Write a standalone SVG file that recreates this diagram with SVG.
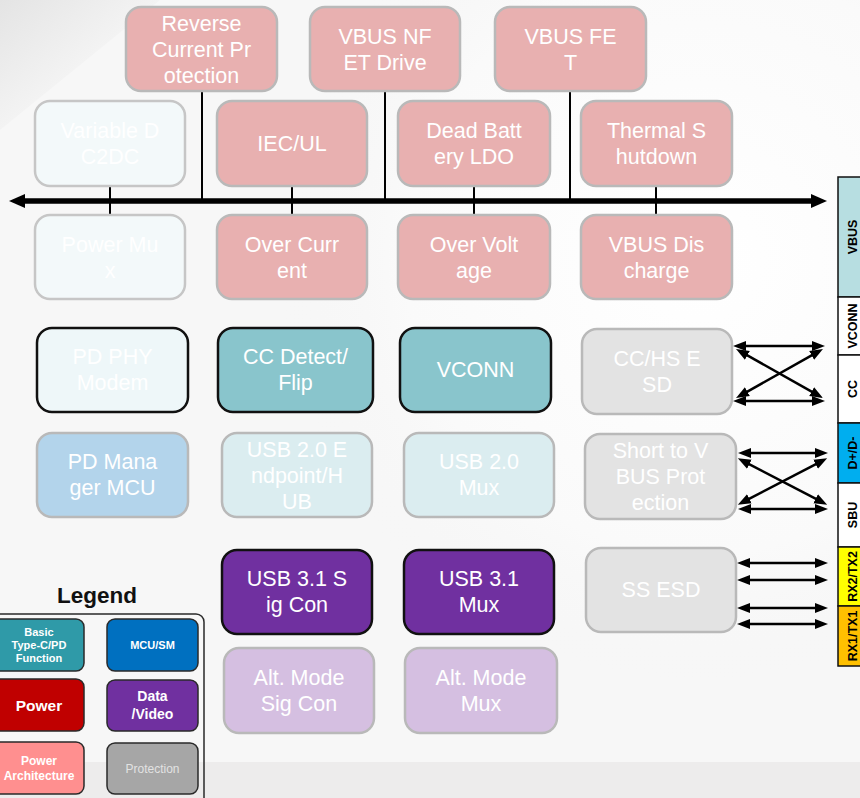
<svg xmlns="http://www.w3.org/2000/svg" width="860" height="798" viewBox="0 0 860 798">
<defs>
<linearGradient id="bgTL" x1="0" y1="0" x2="1" y2="1">
<stop offset="0" stop-color="#e4e4e4"/>
<stop offset="0.5" stop-color="#f3f3f3"/>
<stop offset="1" stop-color="#f8f8f8"/>
</linearGradient>
<radialGradient id="bgR" cx="700" cy="260" r="420" gradientUnits="userSpaceOnUse">
<stop offset="0" stop-color="#ffffff"/>
<stop offset="0.7" stop-color="#fafafa"/>
<stop offset="1" stop-color="#f6f6f6" stop-opacity="0"/>
</radialGradient>
<marker id="bigArrow" markerUnits="userSpaceOnUse" markerWidth="18" markerHeight="16" refX="2" refY="7" orient="auto-start-reverse" viewBox="0 0 18 14">
<path d="M0,0 L16,7 L0,14 z" fill="#000"/>
</marker>
<marker id="arr" markerUnits="userSpaceOnUse" markerWidth="14" markerHeight="12" refX="2" refY="5" orient="auto-start-reverse" viewBox="0 0 14 10">
<path d="M0,0 L13,5 L0,10 z" fill="#000"/>
</marker>
</defs>
<style>
.n rect{stroke-width:2.5}
.pw rect{fill:#e8b0b0;stroke:#b9b9b9}
.fd rect{fill:#f3f9fa;stroke:#c6c6c6}
.tc rect{fill:#89c5cc;stroke:#111}
.phy rect{fill:#eef7f9;stroke:#111}
.mcu rect{fill:#b3d4eb;stroke:#b9b9b9}
.u2 rect{fill:#dbedf0;stroke:#b9b9b9}
.pr rect{fill:#e3e3e3;stroke:#b9b9b9}
.dv rect{fill:#7030a0;stroke:#111}
.alt rect{fill:#d5bfe1;stroke:#b9b9b9}
.n text{font-family:"Liberation Sans",Arial,sans-serif;font-size:21.5px;fill:#ffffff;text-anchor:middle}
.lg rect{stroke:#2a2a2a;stroke-width:1.5}
.lg text{font-family:"Liberation Sans",Arial,sans-serif;font-weight:bold;fill:#ffffff;text-anchor:middle}
.pin text{font-family:"Liberation Sans",Arial,sans-serif;font-weight:bold;font-size:12.5px;fill:#000;text-anchor:middle}
.pin rect{stroke:#111;stroke-width:1.5}
.vl{stroke:#000;stroke-width:2;fill:none}
.ar{stroke:#000;stroke-width:2.5;fill:none;marker-start:url(#arr);marker-end:url(#arr)}
</style>
<rect x="0" y="0" width="860" height="798" fill="#f7f7f7"/>
<polygon points="0,0 160,0 0,130" fill="url(#bgTL)"/>
<rect x="0" y="0" width="860" height="762" fill="url(#bgR)"/>
<rect x="0" y="762" width="860" height="36" fill="#edecec"/>

<g id="connectors">
<line class="vl" x1="110" y1="185" x2="110" y2="214"/>
<line class="vl" x1="202" y1="91" x2="202" y2="200"/>
<line class="vl" x1="292" y1="186" x2="292" y2="214"/>
<line class="vl" x1="385" y1="91" x2="385" y2="200"/>
<line class="vl" x1="474" y1="186" x2="474" y2="214"/>
<line class="vl" x1="570" y1="91" x2="570" y2="200"/>
<line class="vl" x1="656" y1="186" x2="656" y2="214"/>
<line x1="23" y1="201" x2="813" y2="201" stroke="#000" stroke-width="5.5" marker-start="url(#bigArrow)" marker-end="url(#bigArrow)"/>
<line class="ar" x1="744" y1="346" x2="814" y2="346"/>
<line class="ar" x1="744" y1="401" x2="814" y2="401"/>
<line class="ar" x1="745.6" y1="354.4" x2="813.4" y2="392.6"/>
<line class="ar" x1="745.6" y1="392.6" x2="813.4" y2="354.4"/>
<line class="ar" x1="749" y1="453" x2="817" y2="453"/>
<line class="ar" x1="749" y1="509" x2="817" y2="509"/>
<line class="ar" x1="747.6" y1="463.3" x2="817.4" y2="499.7"/>
<line class="ar" x1="747.6" y1="499.7" x2="817.4" y2="463.3"/>
<line class="ar" x1="748" y1="563" x2="817" y2="563"/>
<line class="ar" x1="748" y1="580" x2="817" y2="580"/>
<line class="ar" x1="748" y1="608" x2="817" y2="608"/>
<line class="ar" x1="748" y1="624" x2="817" y2="624"/>
</g>

<g id="n-reverse" class="n pw"><rect x="126" y="7" width="151" height="84" rx="15"/><text x="201.5" y="31">Reverse</text><text x="201.5" y="57">Current Pr</text><text x="201.5" y="83">otection</text></g>
<g id="n-nfet" class="n pw"><rect x="310" y="7" width="150" height="84" rx="15"/><text x="385" y="44">VBUS NF</text><text x="385" y="70">ET Drive</text></g>
<g id="n-fet" class="n pw"><rect x="495" y="7" width="151" height="84" rx="15"/><text x="570.5" y="44">VBUS FE</text><text x="570.5" y="70">T</text></g>

<g id="n-dc2dc" class="n fd"><rect x="35" y="101" width="150" height="85" rx="15"/><text x="110" y="138">Variable D</text><text x="110" y="164">C2DC</text></g>
<g id="n-iec" class="n pw"><rect x="217" y="101" width="150" height="85" rx="15"/><text x="292" y="151">IEC/UL</text></g>
<g id="n-ldo" class="n pw"><rect x="398" y="101" width="152" height="85" rx="15"/><text x="474" y="138">Dead Batt</text><text x="474" y="164">ery LDO</text></g>
<g id="n-thermal" class="n pw"><rect x="581" y="101" width="151" height="85" rx="15"/><text x="656.5" y="138">Thermal S</text><text x="656.5" y="164">hutdown</text></g>

<g id="n-pmux" class="n fd"><rect x="35" y="215" width="150" height="84" rx="15"/><text x="110" y="252">Power Mu</text><text x="110" y="278">x</text></g>
<g id="n-ocp" class="n pw"><rect x="217" y="215" width="150" height="84" rx="15"/><text x="292" y="252">Over Curr</text><text x="292" y="278">ent</text></g>
<g id="n-ovp" class="n pw"><rect x="398" y="215" width="152" height="84" rx="15"/><text x="474" y="252">Over Volt</text><text x="474" y="278">age</text></g>
<g id="n-dis" class="n pw"><rect x="581" y="215" width="151" height="84" rx="15"/><text x="656.5" y="252">VBUS Dis</text><text x="656.5" y="278">charge</text></g>

<g id="n-phy" class="n phy"><rect x="37" y="328" width="151" height="84" rx="15"/><text x="112.5" y="364">PD PHY</text><text x="112.5" y="390">Modem</text></g>
<g id="n-ccd" class="n tc"><rect x="218" y="328" width="155" height="84" rx="15"/><text x="295.5" y="364">CC Detect/</text><text x="295.5" y="390">Flip</text></g>
<g id="n-vconn" class="n tc"><rect x="400" y="328" width="151" height="84" rx="15"/><text x="475.5" y="377">VCONN</text></g>
<g id="n-ccesd" class="n pr"><rect x="582" y="329" width="150" height="85" rx="15"/><text x="657" y="366">CC/HS E</text><text x="657" y="392">SD</text></g>

<g id="n-mcu" class="n mcu"><rect x="37" y="433" width="151" height="84" rx="15"/><text x="112.5" y="469">PD Mana</text><text x="112.5" y="495">ger MCU</text></g>
<g id="n-u2ep" class="n u2"><rect x="222" y="433" width="150" height="84" rx="15"/><text x="297" y="457">USB 2.0 E</text><text x="297" y="483">ndpoint/H</text><text x="297" y="509">UB</text></g>
<g id="n-u2mux" class="n u2"><rect x="404" y="433" width="150" height="84" rx="15"/><text x="479" y="469">USB 2.0</text><text x="479" y="495">Mux</text></g>
<g id="n-stv" class="n pr"><rect x="585" y="434" width="151" height="85" rx="15"/><text x="660.5" y="458">Short to V</text><text x="660.5" y="484">BUS Prot</text><text x="660.5" y="510">ection</text></g>

<g id="n-u3sig" class="n dv"><rect x="222" y="550" width="150" height="84" rx="15"/><text x="297" y="586">USB 3.1 S</text><text x="297" y="612">ig Con</text></g>
<g id="n-u3mux" class="n dv"><rect x="404" y="550" width="150" height="84" rx="15"/><text x="479" y="586">USB 3.1</text><text x="479" y="612">Mux</text></g>
<g id="n-ssesd" class="n pr"><rect x="586" y="548" width="150" height="84" rx="15"/><text x="661" y="597">SS ESD</text></g>

<g id="n-altsig" class="n alt"><rect x="224" y="648" width="150" height="85" rx="15"/><text x="299" y="685">Alt. Mode</text><text x="299" y="711">Sig Con</text></g>
<g id="n-altmux" class="n alt"><rect x="405" y="648" width="152" height="85" rx="15"/><text x="481" y="685">Alt. Mode</text><text x="481" y="711">Mux</text></g>

<g id="connector-pins" class="pin">
<rect x="838" y="177" width="30" height="120" fill="#b7dee1"/>
<rect x="838" y="297" width="30" height="58" fill="#ffffff"/>
<rect x="838" y="355" width="30" height="68" fill="#ffffff"/>
<rect x="838" y="423" width="30" height="60" fill="#00aeef"/>
<rect x="838" y="483" width="30" height="64" fill="#ffffff"/>
<rect x="838" y="547" width="30" height="59" fill="#ffff00"/>
<rect x="838" y="606" width="30" height="60" fill="#ffc000"/>
<text transform="translate(857,237) rotate(-90)">VBUS</text>
<text transform="translate(857,326) rotate(-90)">VCONN</text>
<text transform="translate(857,389) rotate(-90)">CC</text>
<text transform="translate(857,453) rotate(-90)">D+/D-</text>
<text transform="translate(857,515) rotate(-90)">SBU</text>
<text transform="translate(857,576.5) rotate(-90)">RX2/TX2</text>
<text transform="translate(857,636) rotate(-90)">RX1/TX1</text>
</g>

<g id="legend" class="lg">
<text x="97" y="603" style="fill:#111;font-size:22.5px">Legend</text>
<rect x="-10" y="614" width="214" height="200" rx="8" fill="none" stroke="#222"/>
<rect x="-8" y="619" width="92" height="52" rx="8" fill="#2f9aa8"/>
<text x="39" y="636" font-size="11">Basic</text>
<text x="39" y="649" font-size="11">Type-C/PD</text>
<text x="39" y="662" font-size="11">Function</text>
<rect x="107" y="619" width="91" height="52" rx="8" fill="#0070c0"/>
<text x="152.5" y="649" font-size="11">MCU/SM</text>
<rect x="-8" y="679" width="92" height="52" rx="8" fill="#c00000"/>
<text x="39" y="711" font-size="15.5">Power</text>
<rect x="107" y="680" width="91" height="51" rx="8" fill="#7030a0"/>
<text x="152.5" y="701" font-size="14">Data</text>
<text x="152.5" y="719" font-size="14">/Video</text>
<rect x="-8" y="742" width="92" height="52" rx="8" fill="#ff8f8f"/>
<text x="39" y="765" font-size="12">Power</text>
<text x="39" y="780" font-size="12">Architecture</text>
<rect x="107" y="743" width="91" height="51" rx="8" fill="#a6a6a6"/>
<text x="152.5" y="773" font-size="12" style="font-weight:normal;fill:#e2e2e2">Protection</text>
</g>
</svg>
